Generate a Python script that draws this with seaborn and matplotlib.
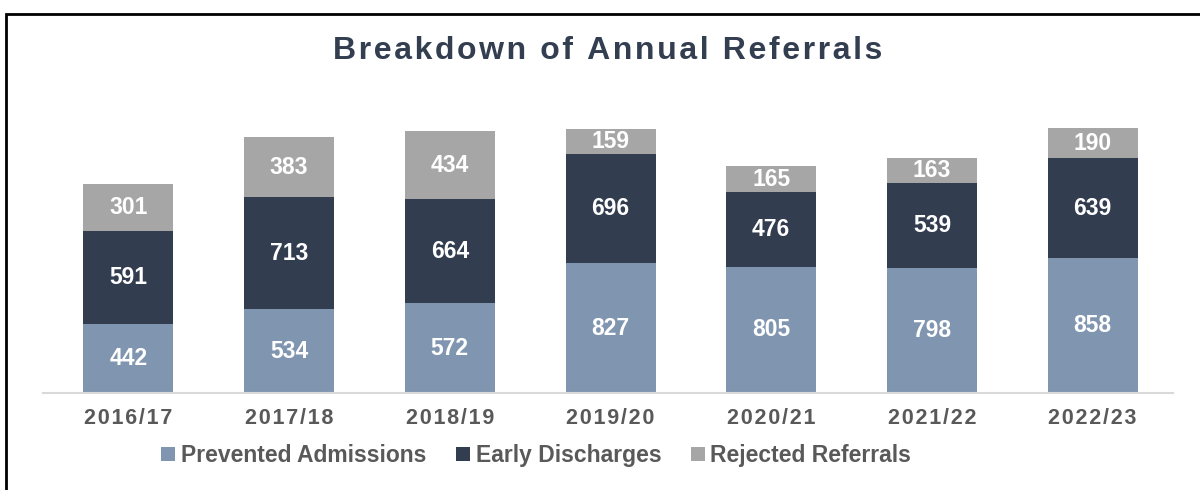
import matplotlib
matplotlib.use("Agg")
import matplotlib.pyplot as plt
import seaborn as sns
import pandas as pd
from matplotlib.patches import Rectangle, Patch

years = ["2016/17", "2017/18", "2018/19", "2019/20", "2020/21", "2021/22", "2022/23"]
prevented = [442, 534, 572, 827, 805, 798, 858]
early = [591, 713, 664, 696, 476, 539, 639]
rejected = [301, 383, 434, 159, 165, 163, 190]
series_names = ["Prevented Admissions", "Early Discharges", "Rejected Referrals"]
colors = ["#8096B0", "#333D50", "#A6A6A6"]

sns.set_theme(style="white")
plt.rcParams["font.family"] = ["Liberation Sans", "DejaVu Sans"]

HS = "\u200a"
def spaced(s, sep=HS):
    return sep.join(list(s))

df = pd.DataFrame({"year": years, "prevented": prevented, "early": early, "rejected": rejected})
df["lvl2"] = df["prevented"] + df["early"]
df["total"] = df["lvl2"] + df["rejected"]

fig = plt.figure(figsize=(12, 4.9), dpi=100)
ax = fig.add_axes([0.036, 0.198, 0.9415, 0.64])

w = 0.56
sns.barplot(data=df, x="year", y="total", color=colors[2], width=w, saturation=1, ax=ax, linewidth=0)
sns.barplot(data=df, x="year", y="lvl2", color=colors[1], width=w, saturation=1, ax=ax, linewidth=0)
sns.barplot(data=df, x="year", y="prevented", color=colors[0], width=w, saturation=1, ax=ax, linewidth=0)

for i in range(len(years)):
    segs = [(0, prevented[i]), (prevented[i], early[i]), (prevented[i] + early[i], rejected[i])]
    for b, h in segs:
        ax.text(i, b + h / 2, str(h), ha="center", va="center", color="white",
                fontsize=16.5, fontweight="bold")

ax.set_ylim(0, 2000)
ax.set_xlim(-0.53, 6.5)
ax.set_xlabel("")
ax.set_ylabel("")
ax.set_yticks([])
ax.set_xticks(range(len(years)))
ax.set_xticklabels([spaced(y, HS) for y in years], fontsize=15.5, fontweight="bold", color="#595959")
ax.tick_params(axis="x", length=0, pad=11)
for s in ["left", "right", "top"]:
    ax.spines[s].set_visible(False)
ax.spines["bottom"].set_color("#D9D9D9")
ax.spines["bottom"].set_linewidth(1.5)

fig.text(0.506, 0.895, spaced("Breakdown of Annual Referrals"), ha="center", va="center",
         fontsize=23, fontweight="bold", color="#333F50")

handles = [Patch(facecolor=c, edgecolor="none") for c in colors]
fig.legend(handles, series_names, loc="center", bbox_to_anchor=(0.447, 0.07), ncol=3, frameon=False,
           prop={"size": 16.5, "weight": "bold"}, labelcolor="#595959",
           handlelength=0.6, handleheight=0.6, handletextpad=0.25, columnspacing=1.3)

fig.patches.append(Rectangle((6 / 1200, -0.2), 1.2, 0.2 + (490 - 13.5) / 490, transform=fig.transFigure,
                             fill=False, edgecolor="black", linewidth=2, clip_on=False))

fig.savefig("out.png", dpi=100)
